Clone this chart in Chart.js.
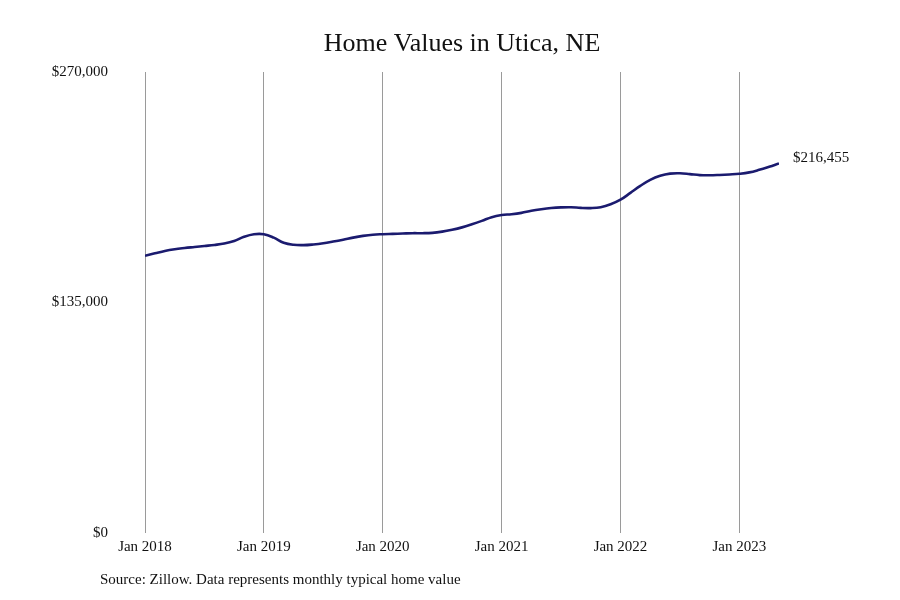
<!DOCTYPE html>
<html><head><meta charset="utf-8">
<script src="https://cdn.jsdelivr.net/npm/chart.js@4/dist/chart.umd.min.js"></script>
<style>html,body{margin:0;padding:0;background:#fff}#wrap{width:900px;height:600px;position:relative}</style>
</head><body><div id="wrap"><canvas id="c" width="900" height="600"></canvas></div>
<script>
const title = "Home Values in Utica, NE";
const source = "Source: Zillow. Data represents monthly typical home value";
const months = ["Jan","Feb","Mar","Apr","May","Jun","Jul","Aug","Sep","Oct","Nov","Dec"];
const years = [2018,2019,2020,2021,2022,2023];
const values = [
 162400,163800,165200,166200,166900,167500,168100,168700,169500,171000,173500,175000,
 175000,173000,170000,168800,168600,169000,169700,170700,171800,173000,174000,174700,
 175000,175200,175400,175600,175600,175800,176500,177600,179000,180800,182800,185000,
 186200,186700,187500,188700,189600,190300,190700,190800,190400,190300,190800,192500,
 195200,199200,203300,206800,209200,210500,210700,210200,209600,209500,209700,210000,
 210400,211200,212700,214500,216455
];
const yTicks = [0,135000,270000];
const lastLabel = "$216,455";

const labels = values.map((v,i)=> months[i%12] + " " + years[Math.floor(i/12)]);
const points = values.map((v,i)=>({x:i,y:v}));
const fmt = v => "$" + v.toLocaleString("en-US");
const SERIF = "'Liberation Serif', 'DejaVu Serif', serif";

const textPlugin = {
  id:'texts',
  afterDraw(chart){
    const ctx = chart.ctx, a = chart.chartArea;
    ctx.save();
    ctx.fillStyle = '#111';
    ctx.font = "26px " + SERIF;
    ctx.textAlign = 'center'; ctx.textBaseline = 'middle';
    ctx.fillText(title, (a.left+a.right)/2, 44);
    ctx.font = "15px " + SERIF;
    ctx.textAlign = 'left';
    ctx.fillText(source, 100, 580);
    const meta = chart.getDatasetMeta(0);
    const p = meta.data[meta.data.length-1];
    ctx.fillText(lastLabel, p.x + 14, p.y - 5);
    ctx.restore();
  }
};

new Chart(document.getElementById('c'), {
  type:'line',
  data:{ datasets:[{ data: points, borderColor:'#1b1b6f', borderWidth:2.6, pointRadius:0, tension:0.4, fill:false }]},
  options:{
    responsive:false, animation:false,
    layout:{ padding:{ left:0, right:121, top:72, bottom:0 } },
    plugins:{ legend:{display:false}, tooltip:{enabled:false} },
    scales:{
      x:{ type:'linear', min:0, max:values.length-1,
        afterBuildTicks(s){ s.ticks = years.map((y,i)=>({value:i*12})); },
        afterFit(s){ s.height = 67; },
        border:{display:false},
        grid:{ color:'#9a9a9a', lineWidth:1, drawTicks:false },
        ticks:{ padding:5, color:'#111', font:{family:SERIF, size:15},
          callback:(v)=> labels[v] }
      },
      y:{ min:0, max:270000,
        afterBuildTicks(s){ s.ticks = yTicks.map(v=>({value:v})); },
        afterFit(s){ s.width = 145; },
        border:{display:false},
        grid:{ display:false, drawTicks:false },
        ticks:{ padding:37, color:'#111', font:{family:SERIF, size:15}, callback:(v)=>fmt(v) }
      }
    }
  },
  plugins:[textPlugin]
});
</script></body></html>
